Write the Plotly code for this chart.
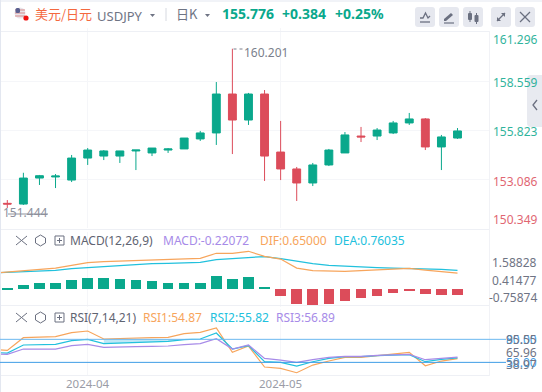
import plotly.graph_objects as go

# ---- data ----
idx = list(range(29))
opens = [151.70,151.66,153.09,153.15,152.98,154.19,154.30,154.30,154.58,154.47,154.63,154.69,155.24,155.57,157.71,156.28,157.71,154.52,153.59,152.82,153.81,154.47,155.40,155.40,155.57,156.12,156.34,154.80,155.29]
highs = [151.88,153.38,153.26,153.31,154.36,154.74,154.63,154.56,154.56,154.74,154.74,155.29,155.68,158.37,160.201,157.77,157.93,156.23,153.70,153.92,154.69,155.62,155.90,155.84,156.23,156.67,156.39,155.46,155.84]
lows = [151.444,151.61,152.71,152.54,152.87,153.81,154.08,153.92,153.53,154.30,154.47,154.69,155.13,154.91,154.41,156.01,152.93,152.98,151.83,152.65,153.75,154.47,155.07,155.18,155.51,156.01,154.63,153.53,155.24]
closes = [151.66,153.09,153.22,153.20,154.19,154.63,154.58,154.58,154.63,154.74,154.69,155.29,155.57,157.71,156.28,157.71,154.30,153.59,152.82,153.81,154.63,155.46,155.35,155.73,156.12,156.34,154.80,155.35,155.68]
grid_prices = [161.137,158.426,155.732,153.022,150.344]
price_labels = ["161.296","158.559","155.823","153.086","150.349"]
hist = [0.04,0.17,0.25,0.25,0.37,0.45,0.45,0.41,0.37,0.33,0.25,0.25,0.25,0.53,0.41,0.49,0.09,-0.27,-0.59,-0.63,-0.60,-0.47,-0.35,-0.27,-0.15,-0.07,-0.20,-0.23,-0.22]
line_x = [-1] + idx
dif = [.64,.69,.75,.80,.85,.96,1.07,1.11,1.13,1.16,1.17,1.19,1.20,1.24,1.44,1.44,1.52,1.32,1.21,.85,.75,.72,.72,.75,.77,.81,.84,.77,.72,.65]
dea = [.65,.68,.71,.73,.76,.83,.87,.92,.97,1.00,1.03,1.04,1.07,1.08,1.19,1.24,1.29,1.31,1.23,1.12,1.03,.96,.92,.88,.87,.85,.84,.83,.80,.76]
rsi1 = [66.95,65.65,82.16,83.03,83.46,88.68,90.85,80.42,81.29,81.29,82.16,82.60,87.38,89.11,94.76,63.04,71.30,43.92,42.18,36.53,46.52,51.74,56.52,56.52,58.69,61.73,63.04,45.65,51.74,54.87]
rsi2 = [63.04,62.17,72.60,73.03,73.47,78.25,79.99,74.34,75.21,75.64,76.08,77.38,79.55,80.42,88.24,67.38,71.73,50.87,50.00,45.22,50.87,55.22,57.39,57.39,58.69,59.56,60.00,50.87,53.91,55.82]
rsi3 = [61.30,60.43,67.38,67.38,67.38,71.73,73.47,69.56,70.43,70.43,70.86,71.30,73.03,74.34,80.86,67.38,72.60,55.22,53.04,50.00,53.48,56.52,57.82,57.82,59.13,60.00,60.43,53.48,55.22,56.89]
month_pos = [5, 17]
month_labels = ["2024-04", "2024-05"]
rsi_levels = [80, 50]

W, H = 542, 392
GREEN, RED = "#0aa88c", "#dc4c5a"
ORANGE, CYAN, PURPLE = "#f7a55c", "#22c1dd", "#a78be8"
GRID = "#f5f6f9"
GRAY = "#6f7484"
LAT = "'Noto Sans', 'Noto Sans CJK SC', sans-serif"
XR = [-0.454, 29.96]
XDOM = [0, 489 / W]


def fx(x):
    return x / W


def fy(y):
    return 1 - y / H


fig = go.Figure()
fig.add_trace(go.Candlestick(x=idx, open=opens, high=highs, low=lows, close=closes,
                             increasing=dict(line=dict(color=GREEN, width=1), fillcolor=GREEN),
                             decreasing=dict(line=dict(color=RED, width=1), fillcolor=RED),
                             whiskerwidth=0, xaxis="x", yaxis="y", showlegend=False))
fig.add_trace(go.Bar(x=idx, y=hist, width=0.66, marker=dict(color=[GREEN if v >= 0 else RED for v in hist], line=dict(width=0)),
                     xaxis="x2", yaxis="y2", showlegend=False))
for vals, col in ((dea, CYAN), (dif, ORANGE)):
    fig.add_trace(go.Scatter(x=line_x, y=vals, mode="lines", line=dict(color=col, width=1.2), xaxis="x2", yaxis="y2", showlegend=False))
# light fill between the upper RSI level and RSI2
fill_x = idx[6:13]
fig.add_trace(go.Scatter(x=fill_x, y=[rsi_levels[0]] * len(fill_x), mode="lines", line=dict(width=0), xaxis="x3", yaxis="y3", showlegend=False))
fig.add_trace(go.Scatter(x=fill_x, y=rsi2[7:14], mode="lines", line=dict(width=0), fill="tonexty", fillcolor="#bfe8f6", xaxis="x3", yaxis="y3", showlegend=False))
for vals, col in ((rsi1, ORANGE), (rsi2, CYAN), (rsi3, PURPLE)):
    fig.add_trace(go.Scatter(x=line_x, y=vals, mode="lines", line=dict(color=col, width=1.2), xaxis="x3", yaxis="y3", showlegend=False))

shapes, ann = [], []


def line(x0, y0, x1, y1, color, w=1, dash=None):
    shapes.append(dict(type="line", xref="paper", yref="paper", x0=fx(x0), y0=fy(y0), x1=fx(x1), y1=fy(y1),
                       line=dict(color=color, width=w, dash=dash or "solid"), layer="above"))


def text(x, y, s, color=GRAY, size=12, anchor="left", weight=None, family=LAT, opacity=1):
    ann.append(dict(xref="paper", yref="paper", x=fx(x), y=fy(y), text=s, showarrow=False, xanchor=anchor, yanchor="middle",
                    font=dict(family=family, size=size, color=color, weight=weight), opacity=opacity,
                    borderpad=0, borderwidth=0))


def path(d, fill=None, color=None, w=1):
    shapes.append(dict(type="path", xref="paper", yref="paper", path=d, fillcolor=fill or "rgba(0,0,0,0)",
                       line=dict(color=color or "rgba(0,0,0,0)", width=w), layer="above"))


def P(*pts, close=False):
    s = "M" + " L".join(f"{fx(x):.5f},{fy(y):.5f}" for x, y in pts)
    return s + (" Z" if close else "")


def rrect(x0, y0, x1, y1, r, fill):
    rx, ry = r / W, r / H
    a, b, c, d = fx(x0), fx(x1), fy(y0), fy(y1)
    path(f"M{a+rx},{c} L{b-rx},{c} Q{b},{c} {b},{c-ry} L{b},{d+ry} Q{b},{d} {b-rx},{d} L{a+rx},{d} Q{a},{d} {a},{d+ry} L{a},{c-ry} Q{a},{c} {a+rx},{c} Z", fill=fill)


def circle(cx, cy, r, fill):
    shapes.append(dict(type="circle", xref="paper", yref="paper", x0=fx(cx - r), x1=fx(cx + r), y0=fy(cy + r), y1=fy(cy - r),
                       fillcolor=fill, line=dict(width=0), layer="above"))


# frame and dividers
for y in (1, 31.5, 229.5, 305.5, 375.5):
    line(0, y, W if y < 5 else 489, y, "#eef0f5" if y > 5 else "#e3e7f0", 1)
line(0.5, 0, 0.5, H, "#e3e7f0", 1)
line(489.5, 31, 489.5, 376, "#f1f2f6", 1)

# header
circle(20, 13, 5.5, "#e8e4ea")
path(P((15, 10), (25, 10)), color="#d98a8a", w=1)
path(P((15, 13), (25, 13)), color="#d98a8a", w=1)
path(P((15, 16), (25, 16)), color="#d98a8a", w=1)
rrect(15.5, 8, 20, 13, 1.5, "#5a5f8f")
circle(26, 18, 2.6, "#f01010")
text(35, 14, "美元/日元", "#f4693f", 13, family="'Noto Sans CJK SC'")
text(97, 15.5, "USDJPY", GRAY, 13)
path(P((150, 14), (155, 14), (152.5, 17), close=True), fill=GRAY)
line(166, 8, 166, 21, "#d6d9e0", 1)
text(176, 14, "日K", GRAY, 13, family="'Noto Sans CJK SC'")
path(P((205, 14), (210, 14), (207.5, 17), close=True), fill=GRAY)
text(221.5, 14, "155.776", GREEN, 14, weight="bold")
text(281.5, 14, "+0.384", GREEN, 14, weight="bold")
text(335, 14, "+0.25%", GREEN, 14, weight="bold")

# toolbar
ICON = "#6b7080"
for x0 in (415, 439, 463, 491, 515):
    rrect(x0, 7, x0 + 20, 27, 3, "#e6e8ef")
path(P((420, 18), (423, 18), (425.5, 13), (428, 18), (430, 16)), color=ICON, w=1.3)
line(420, 22, 430, 22, ICON, 1.3)
path(P((444, 19), (451, 13), (453, 15), (446, 21), (444, 21), close=True), fill=ICON)
line(444, 23, 454, 23, ICON, 1.2)
rrect(468, 13, 472, 20, 1, ICON)
rrect(474.5, 15, 478.5, 22, 1, ICON)
line(470, 11, 470, 22, ICON, 1)
line(476.5, 13, 476.5, 24, ICON, 1)
path(P((497, 21), (505, 13)), color=ICON, w=1.2)
path(P((497, 17), (497, 21), (501, 21), close=True), fill=ICON)
path(P((501, 13), (505, 13), (505, 17), close=True), fill=ICON)
path(P((520, 12), (530, 22)), color=ICON, w=1.2)
path(P((530, 12), (520, 22)), color=ICON, w=1.2)

# side tab
rrect(527, 75, 546, 127, 4, "#e8eaf0")
path(P((537, 100), (533, 105), (537, 110)), color=ICON, w=1.3)

# extremes
ann_col = "#7b7f8c"
line(233.5, 49, 243, 49, ann_col, 1, "dot")
text(244, 52, "160.201", ann_col, 12)
line(8, 214, 48, 214, "#8d909c", 1)
text(3, 212, "151.444", "#8d909c", 12)

# axis labels
price_y = [39, 82.5, 131.5, 181.5, 220]
price_cols = [GREEN, GREEN, GREEN, RED, RED]
for lab, y, col in zip(price_labels, price_y, price_cols):
    text(538, y, lab, col, 12, anchor="right", opacity=0.85)
for lab, y in zip(["1.58828", "0.41477", "-0.75874"], [262, 280.7, 297.3]):
    text(537, y, lab, GRAY, 12, anchor="right")
for lab, y, col in (("80.00", 339.5, "#3f9de6"), ("95.55", 339.5, GRAY), ("65.96", 352, GRAY), ("50.00", 362, "#3f9de6"), ("38.97", 364, GRAY)):
    text(537, y, lab, col, 12, anchor="right")
for p, lab in zip(month_pos, month_labels):
    text(7.3 + 16.08 * p, 383.7, lab, "#9a9ca6", 11.5, anchor="center")

# RSI levels
for lv, col in zip(rsi_levels, ("#6cb8f0", "#3f9de6")):
    shapes.append(dict(type="line", xref="paper", yref="y3", x0=0, x1=fx(506), y0=lv, y1=lv, line=dict(color=col, width=1), layer="above"))

# indicator headers
for off, name in ((0, "MACD(12,26,9)"), (77, "RSI(7,14,21)")):
    path(P((16, 236 + off), (27, 245 + off)), color=ICON, w=1)
    path(P((27, 236 + off), (16, 245 + off)), color=ICON, w=1)
    path(P((40.5, 235 + off), (45.5, 238 + off), (45.5, 243 + off), (40.5, 246 + off), (35.5, 243 + off), (35.5, 238 + off), close=True), color=ICON, w=1)
    circle(40.5, 240.5 + off, 1.6, "#ffffff")
    path(P((55, 236 + off), (64, 236 + off), (64, 245 + off), (55, 245 + off), close=True), color=ICON, w=1)
    line(57, 240.5 + off, 62, 240.5 + off, ICON, 1)
    line(59.5, 238 + off, 59.5, 243 + off, ICON, 1)
    text(69.5, 240.5 + off, name, "#5f6472", 12)
text(163, 240.5, "MACD:-0.22072", PURPLE, 12)
text(260, 240.5, "DIF:0.65000", ORANGE, 12)
text(334, 240.5, "DEA:0.76035", CYAN, 12)
text(143, 317.5, "RSI1:54.87", ORANGE, 12)
text(210, 317.5, "RSI2:55.82", CYAN, 12)
text(276, 317.5, "RSI3:56.89", PURPLE, 12)

ax = dict(range=XR, domain=XDOM, showticklabels=False, ticks="", tickmode="array", tickvals=month_pos,
          showgrid=True, gridcolor=GRID, gridwidth=1, zeroline=False, showline=False, fixedrange=True)
ay = dict(showticklabels=False, ticks="", zeroline=False, showline=False, fixedrange=True)
fig.update_layout(
    width=W, height=H, autosize=False, margin=dict(l=0, r=0, t=0, b=0), paper_bgcolor="white", plot_bgcolor="rgba(0,0,0,0)",
    showlegend=False, bargap=0, hovermode=False,
    xaxis=dict(ax, anchor="y", rangeslider=dict(visible=False)),
    xaxis2=dict(ax, anchor="y2"), xaxis3=dict(ax, anchor="y3"),
    yaxis=dict(ay, domain=[fy(228), fy(28)], range=[150.344, 161.34], tickmode="array", tickvals=grid_prices, showgrid=True, gridcolor=GRID),
    yaxis2=dict(ay, domain=[fy(307), fy(232)], range=[-0.708, 2.292], showgrid=False),
    yaxis3=dict(ay, domain=[fy(375), fy(309)], range=[33.56, 119.5], showgrid=False),
    shapes=shapes, annotations=ann,
)
fig.write_html("out.html", config=dict(displayModeBar=False),
               post_script="document.body.style.margin='0';document.documentElement.style.overflow='hidden';")
